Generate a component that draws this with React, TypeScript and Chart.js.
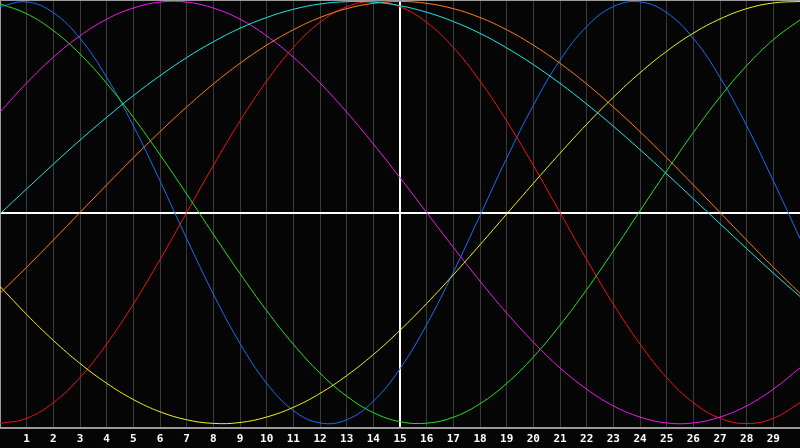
import { useRef, useEffect } from 'react';
import Chart from 'chart.js/auto';

const days = [0, 1, 2, 3, 4, 5, 6, 7, 8, 9, 10, 11, 12, 13, 14, 15, 16, 17, 18, 19, 20, 21, 22, 23, 24, 25, 26, 27, 28, 29, 30];
const hiddenDays = [0, 30];

const physical = [0.976, 0.998, 0.947, 0.825, 0.641, 0.411, 0.150, -0.123, -0.386, -0.620, -0.809, -0.938, -0.997, -0.982, -0.894, -0.740, -0.531, -0.283, -0.014, 0.257, 0.508, 0.722, 0.881, 0.976, 0.998, 0.947, 0.825, 0.641, 0.411, 0.150, -0.123];
const emotional = [-1, -0.975, -0.901, -0.782, -0.623, -0.434, -0.223, 0, 0.223, 0.434, 0.623, 0.782, 0.901, 0.975, 1, 0.975, 0.901, 0.782, 0.623, 0.434, 0.223, 0, -0.223, -0.434, -0.623, -0.782, -0.901, -0.975, -1, -0.975, -0.901];
const intellectual = [0.989, 0.942, 0.862, 0.751, 0.612, 0.451, 0.274, 0.088, -0.103, -0.289, -0.465, -0.624, -0.761, -0.870, -0.948, -0.991, -0.998, -0.970, -0.906, -0.810, -0.685, -0.534, -0.365, -0.182, 0.008, 0.197, 0.379, 0.547, 0.696, 0.819, 0.913];
const intuitive = [0.476, 0.614, 0.736, 0.837, 0.916, 0.969, 0.997, 0.997, 0.969, 0.916, 0.837, 0.736, 0.614, 0.476, 0.325, 0.165, 0, -0.165, -0.325, -0.476, -0.614, -0.736, -0.837, -0.916, -0.969, -0.997, -0.997, -0.969, -0.916, -0.837, -0.736];
const aesthetic = [-0.350, -0.483, -0.606, -0.715, -0.809, -0.886, -0.944, -0.982, -0.999, -0.995, -0.969, -0.923, -0.857, -0.773, -0.673, -0.558, -0.431, -0.295, -0.153, -0.007, 0.138, 0.281, 0.418, 0.546, 0.662, 0.764, 0.850, 0.917, 0.966, 0.993, 1.0];
const awareness = [-0.383, -0.259, -0.131, 0, 0.131, 0.259, 0.383, 0.5, 0.609, 0.707, 0.793, 0.866, 0.924, 0.966, 0.991, 1, 0.991, 0.966, 0.924, 0.866, 0.793, 0.707, 0.609, 0.5, 0.383, 0.259, 0.131, 0, -0.131, -0.259, -0.383];
const spiritual = [-0.006, 0.112, 0.229, 0.343, 0.451, 0.554, 0.648, 0.734, 0.809, 0.873, 0.924, 0.963, 0.988, 0.999, 0.997, 0.980, 0.949, 0.905, 0.849, 0.780, 0.701, 0.612, 0.514, 0.409, 0.298, 0.183, 0.065, -0.053, -0.171, -0.287, -0.398];

const series = [
    { label: 'Spiritual', data: spiritual, color: '#1ee8e8' },
    { label: 'Self-awareness', data: awareness, color: '#ff7f1a' },
    { label: 'Aesthetic', data: aesthetic, color: '#f2f21a' },
    { label: 'Intuitive', data: intuitive, color: '#f01af0' },
    { label: 'Intellectual', data: intellectual, color: '#1ee81e' },
    { label: 'Emotional', data: emotional, color: '#f01414' },
    { label: 'Physical', data: physical, color: '#1a6ef5' },
];

const frameLines = {
    id: 'frameLines',
    afterDraw(chart: any) {
        const { ctx, chartArea } = chart;
        ctx.save();
        ctx.strokeStyle = '#9a9a9a';
        ctx.lineWidth = 1;
        ctx.beginPath();
        ctx.moveTo(chartArea.left, chartArea.top + 0.5);
        ctx.lineTo(chartArea.right, chartArea.top + 0.5);
        ctx.stroke();
        ctx.restore();
    }
};

export default function App() {
    const chartRef = useRef<HTMLCanvasElement>(null);

    useEffect(() => {
        document.body.style.margin = '0';
        if (!chartRef.current) return;
        const chart = new Chart(chartRef.current, {
            type: 'line',
            data: {
                labels: days.map(String),
                datasets: series.map(s => ({
                    label: s.label,
                    data: s.data,
                    borderColor: s.color,
                    borderWidth: 1,
                    pointRadius: 0,
                    tension: 0.4,
                    fill: false,
                }))
            },
            options: {
                animation: false,
                responsive: true,
                maintainAspectRatio: false,
                layout: { autoPadding: false, padding: { left: 0, right: 0, top: 0, bottom: 2 } },
                plugins: {
                    legend: { display: false },
                    tooltip: { enabled: false }
                },
                scales: {
                    x: {
                        type: 'category',
                        offset: false,
                        grid: {
                            offset: false,
                            drawTicks: true,
                            tickLength: 5,
                            tickColor: 'rgba(0,0,0,0)',
                            color: (ctx: any) => {
                                const v = days[ctx.index];
                                if (hiddenDays.includes(v)) return 'rgba(0,0,0,0)';
                                return v === 15 ? '#ffffff' : '#3a3a3a';
                            },
                            lineWidth: (ctx: any) => (days[ctx.index] === 15 ? 2 : 1),
                        },
                        border: { color: '#9a9a9a', width: 2 },
                        ticks: {
                            autoSkip: false,
                            maxRotation: 0,
                            padding: 0,
                            color: '#ffffff',
                            font: { family: 'DejaVu Sans Mono', size: 11, weight: 'bold' },
                            callback: (_v: any, i: number) => (hiddenDays.includes(days[i]) ? '' : String(days[i])),
                        }
                    },
                    y: {
                        min: -1.02,
                        max: 1.007,
                        afterBuildTicks: (scale: any) => { scale.ticks = [{ value: 0 }]; },
                        grid: {
                            drawTicks: false,
                            color: '#ffffff',
                            lineWidth: 2,
                        },
                        border: { color: '#9a9a9a', width: 2 },
                        ticks: { display: false, padding: 0 }
                    }
                }
            },
            plugins: [frameLines]
        } as any);

        return () => {
            chart.destroy();
        };
    }, []);

    return (
        <div style={{ width: 800, height: 448, background: '#050506' }}>
            <canvas ref={chartRef}></canvas>
        </div>
    );
}
